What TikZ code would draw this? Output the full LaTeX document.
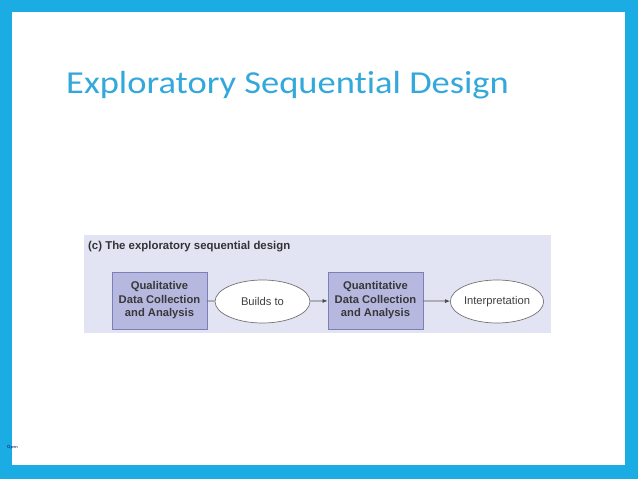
\documentclass[tikz,border=0pt]{standalone}
\usepackage{fontspec}
\setmainfont{Carlito}
\newfontfamily\titlefont[FakeStretch=1.14, Ligatures=NoCommon]{Carlito}
\newfontfamily\diagfont{Liberation Sans}
\usetikzlibrary{arrows.meta, positioning, shapes.geometric}
\definecolor{framecol}{HTML}{1AACE2}
\definecolor{titlecol}{HTML}{33A8DB}
\definecolor{panelcol}{HTML}{E3E4F3}
\definecolor{boxcol}{HTML}{B6B8E0}
\definecolor{boxline}{HTML}{7B80B6}

\begin{document}
\begin{tikzpicture}[x=1pt, y=-1pt,
  stagebox/.style={draw=boxline, fill=boxcol, line width=0.8pt, minimum width=95pt,
    minimum height=57pt, align=center, text=black!78,
    font=\diagfont\bfseries\fontsize{11.2}{13.4}\selectfont},
  linkoval/.style={ellipse, draw=black!55, fill=white, line width=0.7pt,
    minimum height=43pt, inner sep=0pt, text=black!75,
    font=\diagfont\fontsize{11.2}{13.4}\selectfont},
  link/.style={draw=black!70, line width=0.7pt}]
  % Slide frame
  \fill[framecol] (0,0) rectangle (638,479);
  \fill[white] (12,12) rectangle (625,465);
  % Title
  \node[anchor=base west, inner sep=0pt, text=titlecol,
    font=\titlefont\fontsize{32}{38}\selectfont] (title) at (66,93) {Exploratory Sequential Design};
  % Panel
  \fill[panelcol] (84,235) rectangle (551,333);
  \node[anchor=west, inner sep=0pt, text=black!80,
    font=\diagfont\bfseries\fontsize{11.4}{13}\selectfont] (caption) at (88,247) {(c) The exploratory sequential design};
  % Stages
  \node[stagebox] (qual) at (159.5,300.5) {Qualitative\\Data Collection\\and Analysis};
  \node[linkoval, minimum width=95pt] (build) at (262.5,301.5) {Builds to};
  \node[stagebox] (quant) at (375.5,300.5) {Quantitative\\Data Collection\\and Analysis};
  \node[linkoval, minimum width=92pt] (interp) at (497,301.5) {Interpretation};
  % Connectors
  \draw[link] (qual) -- (build);
  \draw[link, -{Latex[length=5pt, width=4pt]}] (build) -- (quant);
  \draw[link, -{Latex[length=5pt, width=4pt]}] (quant) -- (interp);
  % Footer
  \node[inner sep=0pt, text=blue!40!black, font=\sffamily\fontsize{4.5}{5}\selectfont] (open) at (12.5,447) {Open};
\end{tikzpicture}
\end{document}
